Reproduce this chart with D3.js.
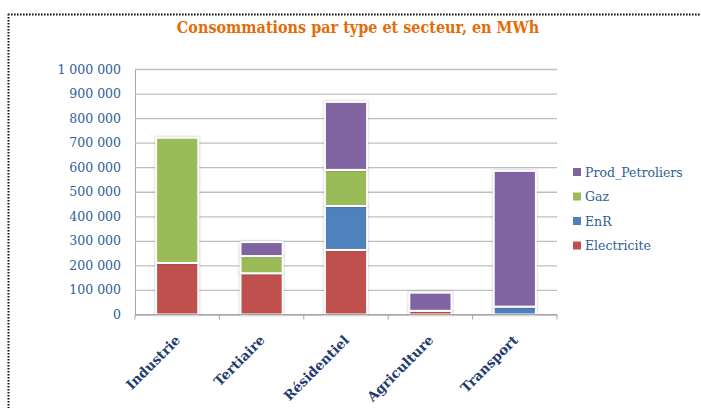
<!DOCTYPE html>
<html>
    <head>
        <meta charset="utf-8">
        <title>Consommations par type et secteur</title>
        <style>
        html, body {
            margin: 0;
            border: 0;
            background: #fff;
        }
        svg {
            display: block;
        }
        </style>
    </head>
    <body>
        <svg width="701" height="408"></svg>

        <script src="https://cdnjs.cloudflare.com/ajax/libs/d3/7.8.5/d3.min.js"></script>
        <script>
            // values in MWh
            let categories = ["Industrie", "Tertiaire", "Résidentiel", "Agriculture", "Transport"];
            let electricite = [210000, 168000, 263000, 15000, 0];
            let enr = [0, 0, 179000, 0, 32000];
            let gaz = [510000, 70000, 147000, 0, 0];
            let prodPetroliers = [0, 57000, 277000, 74000, 553000];
            let seriesNames = ["Electricite", "EnR", "Gaz", "Prod_Petroliers"];
            let yTicks = [0, 100000, 200000, 300000, 400000, 500000, 600000, 700000, 800000, 900000, 1000000];

            const colors = ["#C0504D", "#4F81BD", "#9BBB59", "#8064A2"];
            const serif = "'DejaVu Serif', 'Liberation Serif', serif";

            let table = categories.map((c, i) => ({
                cat: c,
                Electricite: electricite[i],
                EnR: enr[i],
                Gaz: gaz[i],
                Prod_Petroliers: prodPetroliers[i]
            }));
            let stacked = d3.stack().keys(seriesNames)(table);

            const plot = {left: 135, right: 557, top: 69, bottom: 314.5};

            let xScale = d3.scaleBand()
                .domain(categories)
                .range([plot.left, plot.right])
                .paddingInner(0.5)
                .paddingOuter(0.25);
            let yScale = d3.scaleLinear()
                .domain([0, 1000000])
                .range([plot.bottom, plot.top]);

            let svg = d3.select("svg");

            // dotted frame (top and left only)
            svg.append("path")
                .attr("d", "M8,14.5H701M8.5,14V408")
                .attr("fill", "none")
                .attr("stroke", "#111")
                .attr("stroke-width", 2)
                .attr("stroke-dasharray", "1.6,1.4");

            svg.append("text")
                .attr("x", 358)
                .attr("y", 33)
                .attr("text-anchor", "middle")
                .attr("fill", "#E36C09")
                .attr("font-family", "'DejaVu Serif Condensed', 'DejaVu Serif', serif")
                .attr("font-stretch", "condensed")
                .attr("font-weight", "bold")
                .attr("font-size", 16)
                .text("Consommations par type et secteur, en MWh");

            // gridlines + y labels
            let yAxis = d3.axisLeft(yScale)
                .tickValues(yTicks)
                .tickSize(-(plot.right - plot.left))
                .tickPadding(14)
                .tickFormat(d => d3.format(",")(d).replace(/,/g, " "));
            let gy = svg.append("g")
                .attr("transform", "translate(" + [plot.left, 0] + ")")
                .call(yAxis);
            gy.select(".domain").attr("stroke", "#A6A6A6");
            gy.selectAll(".tick line").attr("stroke", "#BFBFBF").attr("stroke-width", 1.3);
            gy.selectAll("text")
                .attr("fill", "#2F5F98")
                .attr("font-family", serif)
                .attr("font-size", 12.5);

            // bars
            svg.append("g").selectAll("g")
                .data(stacked)
                .enter().append("g")
                .attr("fill", (d, i) => colors[i])
                .selectAll("rect")
                .data(d => d.filter(p => p[1] - p[0] > 0))
                .enter().append("rect")
                .attr("x", d => xScale(d.data.cat))
                .attr("y", d => yScale(d[1]))
                .attr("width", xScale.bandwidth())
                .attr("height", d => yScale(d[0]) - yScale(d[1]))
                .attr("stroke", "#fff")
                .attr("stroke-width", 2)
                .style("filter", "drop-shadow(0px 0px 1px rgba(0,0,0,0.25))");

            // x axis with ticks between categories
            let step = xScale.step();
            let bounds = d3.range(categories.length + 1).map(i => plot.left + i * step);
            let gx = svg.append("g");
            gx.append("line")
                .attr("x1", plot.left).attr("x2", plot.right)
                .attr("y1", plot.bottom).attr("y2", plot.bottom)
                .attr("stroke", "#A6A6A6");
            gx.selectAll(".sep")
                .data(bounds)
                .enter().append("line")
                .attr("x1", d => d).attr("x2", d => d)
                .attr("y1", plot.bottom).attr("y2", plot.bottom + 5)
                .attr("stroke", "#A6A6A6");

            svg.append("g").selectAll("text")
                .data(categories)
                .enter().append("text")
                .attr("transform", d => "translate(" + [xScale(d) + xScale.bandwidth() / 2 + 4, 341] + ") rotate(-45)")
                .attr("text-anchor", "end")
                .attr("fill", "#1F3D70")
                .attr("font-family", serif)
                .attr("font-weight", "bold")
                .attr("font-size", 13.5)
                .text(d => d);

            // legend
            let legend = svg.append("g").selectAll("g")
                .data(seriesNames.slice().reverse())
                .enter().append("g")
                .attr("transform", (d, i) => "translate(" + [573, 172 + i * 24.5] + ")");
            legend.append("rect")
                .attr("x", 0).attr("y", -4)
                .attr("width", 8).attr("height", 8)
                .attr("fill", d => colors[seriesNames.indexOf(d)]);
            legend.append("text")
                .attr("x", 12)
                .attr("y", 4.5)
                .attr("fill", "#2F5F98")
                .attr("font-family", serif)
                .attr("font-size", 12.5)
                .text(d => d);
        </script>
    </body>
</html>
